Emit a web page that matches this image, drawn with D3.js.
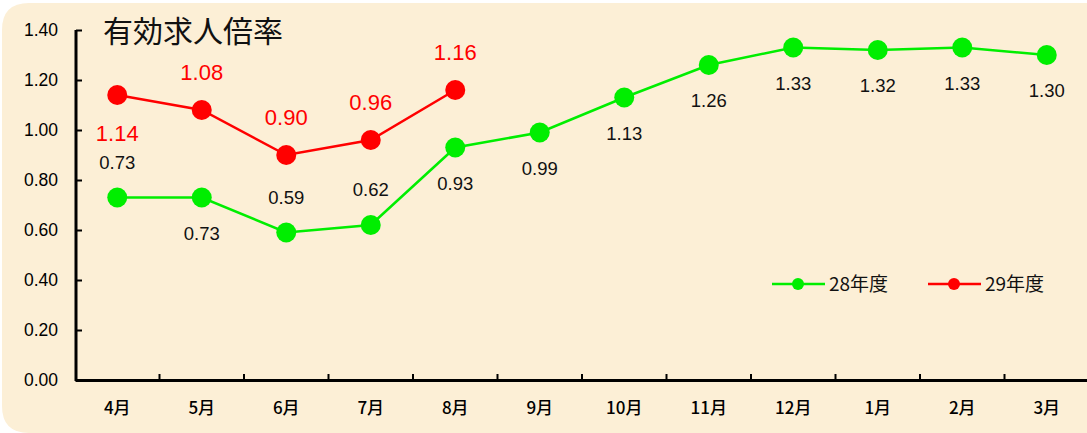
<!DOCTYPE html>
<html><head><meta charset="utf-8">
<script src="https://cdn.jsdelivr.net/npm/d3@7"></script>
<style>body{margin:0;background:#fff;}svg{display:block;}</style>
</head><body>
<script>
const months = ["4月","5月","6月","7月","8月","9月","10月","11月","12月","1月","2月","3月"];
const fy28 = [0.73,0.73,0.59,0.62,0.93,0.99,1.13,1.26,1.33,1.32,1.33,1.30];
const fy29 = [1.14,1.08,0.90,0.96,1.16];
const yTicks = [0,0.2,0.4,0.6,0.8,1.0,1.2,1.4];
const seriesNames = ["28年度","29年度"];
// label placement: 1 = above, -1 = below
const pos28 = [1,-1,1,1,-1,-1,-1,-1,-1,-1,-1,-1];
const pos29 = [-1,1,1,1,1];

const W=1087,H=433;
const CJK="'Noto Sans CJK JP',sans-serif", LAT="'Liberation Sans',Arial,sans-serif";
const svg=d3.select("body").append("svg").attr("width",W).attr("height",H);
svg.append("path").attr("d","M2,30 Q2,3 29,3 L1087,3 L1087,433 L29,433 Q2,433 2,406 Z").attr("fill","#fcefd6");

const x=d3.scaleBand().domain(months).range([75,1089]);
const y=d3.scaleLinear().domain([0,1.4]).range([380,30]);

// axes
const gx=svg.append("g").attr("transform","translate(0,380)")
  .call(d3.axisBottom(x).tickSize(0).tickPadding(22));
gx.select(".domain").attr("stroke","#000").attr("stroke-width",3);
gx.selectAll("text").attr("font-size",17).attr("font-weight",500).attr("fill","#000").style("font-family",CJK);
svg.append("g").selectAll("line").data(months.slice(1)).join("line")
  .attr("x1",d=>x(d)).attr("x2",d=>x(d)).attr("y1",380).attr("y2",374)
  .attr("stroke","#000").attr("stroke-width",2);

const gy=svg.append("g").attr("transform","translate(76,0)")
  .call(d3.axisLeft(y).tickValues(yTicks).tickFormat(d3.format(".2f")).tickSize(-6).tickPadding(18));
gy.select(".domain").attr("stroke","#000").attr("stroke-width",3).attr("d","M-0,30V381");
gy.selectAll(".tick line").attr("stroke","#000").attr("stroke-width",2);
gy.selectAll("text").attr("font-size",17.5).attr("fill","#000").style("font-family",LAT);

svg.append("text").attr("x",103).attr("y",42).attr("font-size",30).attr("fill","#111").style("font-family",CJK).text("有効求人倍率");

const cx=(i)=>x(months[i])+x.bandwidth()/2;
const line=d3.line().x((d,i)=>cx(i)).y(d=>y(d));
const G="#00ee00",R="#ff0000";

function drawSeries(data,color,pos,fs,off,lc){
  svg.append("path").datum(data).attr("d",line).attr("fill","none").attr("stroke",color).attr("stroke-width",2.5);
  svg.append("g").selectAll("circle").data(data).join("circle")
    .attr("cx",(d,i)=>cx(i)).attr("cy",d=>y(d)).attr("r",10).attr("fill",color);
  svg.append("g").selectAll("text").data(data).join("text")
    .attr("x",(d,i)=>cx(i)).attr("y",(d,i)=>y(d)-pos[i]*off+(pos[i]>0?0:fs*0.72))
    .attr("text-anchor","middle").attr("font-size",fs).attr("fill",lc)
    .style("font-family",LAT)
    .text(d=>d.toFixed(2));
}
drawSeries(fy28,G,pos28,18.5,29,"#111");
drawSeries(fy29,R,pos29,22,30,R);

// legend
const leg=[{n:seriesNames[0],c:G,x:772},{n:seriesNames[1],c:R,x:928}];
const lg=svg.append("g").selectAll("g").data(leg).join("g").attr("transform",d=>`translate(${d.x},284)`);
lg.append("line").attr("x1",0).attr("x2",53).attr("stroke",d=>d.c).attr("stroke-width",2.5);
lg.append("circle").attr("cx",26).attr("r",6).attr("fill",d=>d.c);
lg.append("text").attr("x",57).attr("y",7).attr("font-size",19).attr("fill","#111").style("font-family",CJK).text(d=>d.n);
</script>
</body></html>
